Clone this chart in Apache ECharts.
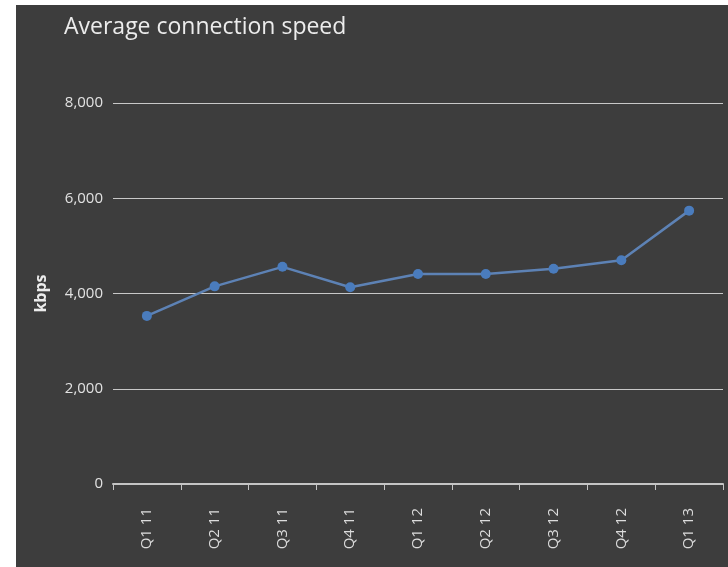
<!DOCTYPE html>
<html>
<head>
<meta charset="utf-8">
<title>Average connection speed</title>
<script src="https://cdn.jsdelivr.net/npm/echarts@6/dist/echarts.min.js"></script>
<style>
  html, body { margin: 0; padding: 0; background: #fff; }
  #chart { position: absolute; left: 16px; top: 5px; width: 712px; height: 562px; }
</style>
</head>
<body>
<div id="chart"></div>
<script>
// quarters on the x axis
var quarters = ['Q1 11', 'Q2 11', 'Q3 11', 'Q4 11', 'Q1 12', 'Q2 12', 'Q3 12', 'Q4 12', 'Q1 13'];
// average speed in kbps
var speed = [3530, 4150, 4560, 4130, 4410, 4410, 4520, 4700, 5740];
var yTicks = { min: 0, max: 8000, step: 2000 };

var chart = echarts.init(document.getElementById('chart'));

chart.setOption({
  backgroundColor: '#3d3d3d',
  animation: false,
  title: {
    text: 'Average connection speed',
    left: 43,
    top: 6,
    textStyle: { color: '#ececec', fontSize: 23, fontWeight: 'normal', fontFamily: 'Open Sans' }
  },
  grid: { left: 97, right: 5, top: 98, bottom: 83 },
  xAxis: {
    type: 'category',
    data: quarters,
    boundaryGap: true,
    axisLine: { lineStyle: { color: '#c4c4c4', width: 2 } },
    axisTick: { show: true, length: 6, lineStyle: { color: '#c4c4c4' } },
    axisLabel: { rotate: 90, color: '#dcdcdc', fontSize: 15, fontFamily: 'Open Sans', margin: 24 }
  },
  yAxis: {
    type: 'value',
    min: yTicks.min,
    max: yTicks.max,
    interval: yTicks.step,
    name: 'kbps',
    nameLocation: 'middle',
    nameGap: 64,
    nameRotate: 90,
    nameTextStyle: { color: '#ececec', fontSize: 16, fontWeight: 'bold', fontFamily: 'Open Sans' },
    axisLine: { show: false },
    axisTick: { show: false },
    axisLabel: {
      color: '#e2e2e2', fontSize: 15, fontFamily: 'Open Sans', margin: 10,
      formatter: function (v) { return v.toLocaleString('en-US'); }
    },
    splitLine: { lineStyle: { color: '#c8c8c8', width: 1 } }
  },
  series: [{
    type: 'line',
    data: speed,
    symbol: 'circle',
    symbolSize: 10,
    lineStyle: { color: '#5d82b5', width: 2.5 },
    itemStyle: { color: '#4a7cbd' }
  }]
});
</script>
</body>
</html>
